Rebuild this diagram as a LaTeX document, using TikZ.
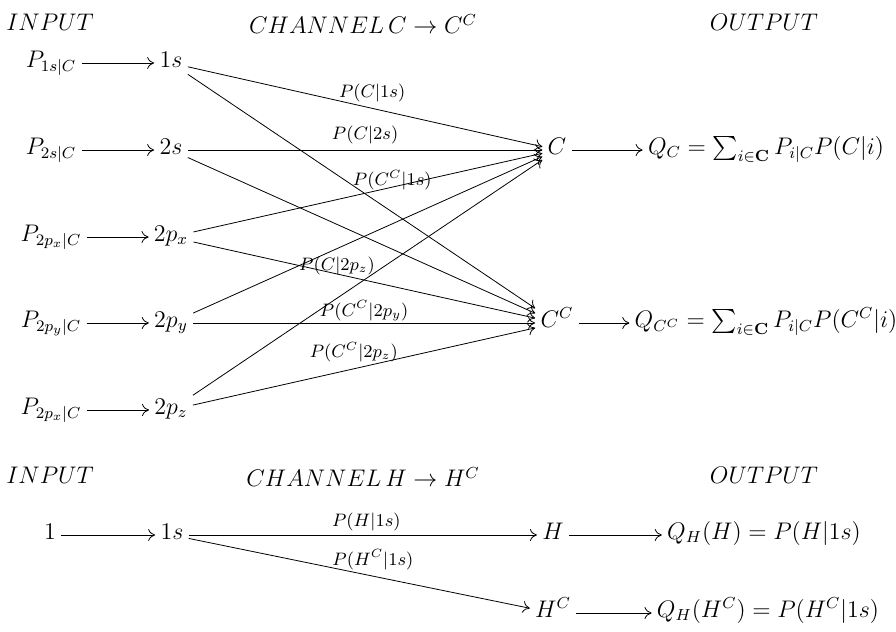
\documentclass[tikz,border=0pt]{standalone}
\usepackage{amsmath}
\usetikzlibrary{arrows.meta}

\begin{document}
\begin{tikzpicture}[
  x = 0.5pt, y = -0.5pt,
  >= {To[length=3.5pt, width=6pt]},
  every node/.style = {inner sep = 1.5pt, font = \large},
  term/.style = {inner sep = 2.5pt, text height = 1.6ex, text depth = .6ex},
  lbl/.style = {font = \small, inner sep = 1pt}
  ]
  \useasboundingbox (0,0) rectangle (896,632);

  % channel C -> C^C
  \node (in1)  at (50,22)  {$INPUT$};
  \node (ch1)  at (363,24) {$CHANNEL\,C \rightarrow C^C$};
  \node (out1) at (764,22) {$OUTPUT$};

  \node[term] (p1s)  at (51,63)  {$P_{1s|C}$};
  \node[term] (p2s)  at (51,150) {$P_{2s|C}$};
  \node[term] (p2px) at (51,237) {$P_{2p_x|C}$};
  \node[term] (p2py) at (51,323) {$P_{2p_y|C}$};
  \node[term] (p2pz) at (51,410) {$P_{2p_x|C}$};

  \node[term] (s1)  at (171,63)  {$1s$};
  \node[term] (s2)  at (171,150) {$2s$};
  \node[term] (px)  at (171,237) {$2p_x$};
  \node[term] (py)  at (171,323) {$2p_y$};
  \node[term] (pz)  at (171,410) {$2p_z$};

  \node[term] (c)   at (557,150) {$C$};
  \node[term] (cc)  at (557,323) {$C^C$};
  \node[term] (qc)  at (766,150) {$Q_C = \sum_{i\in\mathbf{C}} P_{i|C}P(C|i)$};
  \node[term] (qcc) at (766,323) {$Q_{C^C} = \sum_{i\in\mathbf{C}} P_{i|C}P(C^C|i)$};

  \draw[->] (p1s) -- (s1);
  \draw[->] (p2s) -- (s2);
  \draw[->] (p2px) -- (px);
  \draw[->] (p2py) -- (py);
  \draw[->] (p2pz) -- (pz);

  \draw[->] (s1) -- node[lbl, pos=.52, above=2pt] (l1) {$P(C|1s)$} (c);
  \draw[->] (s1) -- (cc);
  \draw[->] (s2) -- node[lbl, pos=.5, above=2pt] (l2) {$P(C|2s)$} (c);
  \draw[->] (s2) -- (cc);
  \draw[->] (px) -- node[lbl, pos=.57, yshift=3.5pt] (l3) {$P(C^C|1s)$} (c);
  \draw[->] (px) -- node[lbl, pos=.42, yshift=4pt] (l4) {$P(C|2p_z)$} (cc);
  \draw[->] (py) -- (c);
  \draw[->] (py) -- node[lbl, pos=.5, above] (l5) {$P(C^C|2p_y)$} (cc);
  \draw[->] (pz) -- (c);
  \draw[->] (pz) -- node[lbl, pos=.47, above=2pt] (l6) {$P(C^C|2p_z)$} (cc);

  \draw[->] (c) -- (qc);
  \draw[->] (cc) -- (qcc);

  % channel H -> H^C
  \node (in2)  at (50,475)  {$INPUT$};
  \node (ch2)  at (363,477) {$CHANNEL\,H \rightarrow H^C$};
  \node (out2) at (764,475) {$OUTPUT$};

  \node[term] (one) at (50,535)  {$1$};
  \node[term] (h1s) at (172,535) {$1s$};
  \node[term] (h)   at (553,535) {$H$};
  \node[term] (hc)  at (553,613) {$H^C$};
  \node[term] (qh)  at (764,535) {$Q_H(H) = P(H|1s)$};
  \node[term] (qhc) at (768,613) {$Q_H(H^C) = P(H^C|1s)$};

  \draw[->] (one) -- (h1s);
  \draw[->] (h1s) -- node[lbl, pos=.51, above=1pt] (l7) {$P(H|1s)$} (h);
  \draw[->] (h1s) -- node[lbl, pos=.54, above=2pt] (l8) {$P(H^C|1s)$} (hc);
  \draw[->] (h) -- (qh);
  \draw[->] (hc) -- (qhc);
\end{tikzpicture}
\end{document}
